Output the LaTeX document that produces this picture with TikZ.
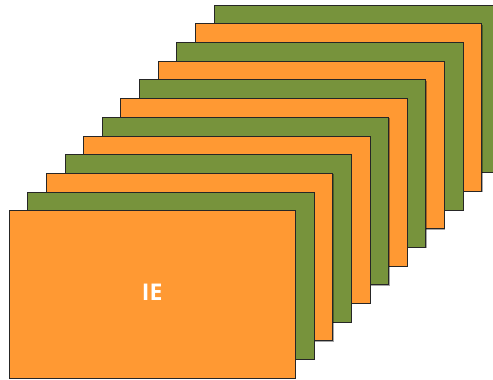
\documentclass[tikz,border=0pt]{standalone}
\usepackage{fontspec}
\setmainfont{Open Sans}
\usetikzlibrary{shadows}
\definecolor{cardorange}{RGB}{255,153,51}
\definecolor{cardgreen}{RGB}{119,147,60}
\begin{document}
\begin{tikzpicture}[x=1pt,y=1pt,
  card/.style={rectangle, draw=black!70!gray, line width=0.7pt, minimum width=286.3pt, minimum height=167.5pt, inner sep=0pt, outer sep=0pt,
    drop shadow={shadow xshift=1pt, shadow yshift=-1pt, opacity=0.35, fill=black}},
  orangecard/.style={card, fill=cardorange},
  greencard/.style={card, fill=cardgreen},
  cardlabel/.style={text=white, font=\bfseries\fontsize{23}{25}\selectfont}]
\useasboundingbox (0,0) rectangle (493,380);
\clip (0,0) rectangle (493,380);
\foreach \i in {11,...,0}{
  \pgfmathsetmacro{\cx}{9+18.64*\i+143.15}
  \pgfmathsetmacro{\cy}{380-(210.7-18.7*\i)-83.75}
  \pgfmathtruncatemacro{\parity}{mod(\i,2)}
  \ifnum\parity=0
    \node[orangecard] (card\i) at (\cx,\cy) {};
  \else
    \node[greencard] (card\i) at (\cx,\cy) {};
  \fi
}
\node[cardlabel] (ie) at ([yshift=2pt]card0.center) {IE};
\end{tikzpicture}
\end{document}
